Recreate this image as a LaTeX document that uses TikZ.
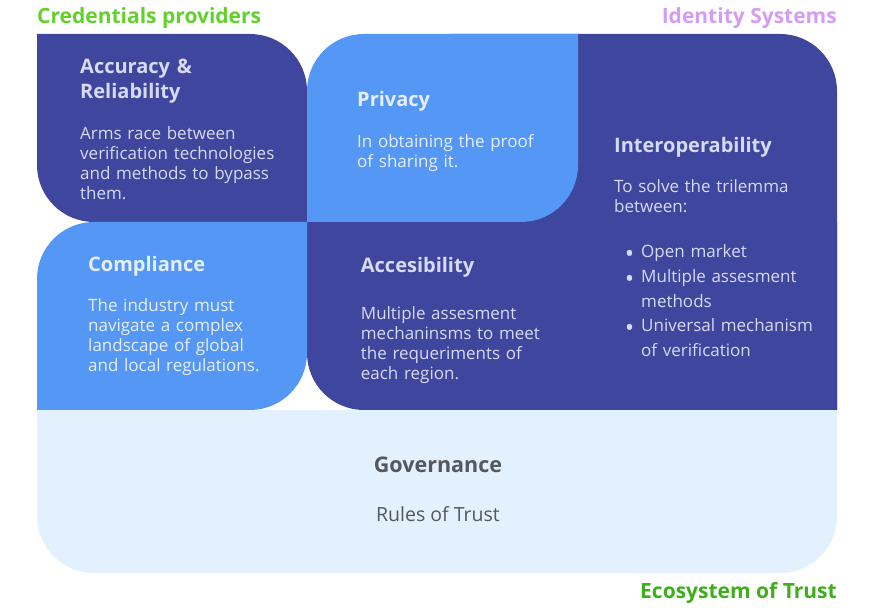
\documentclass[tikz,border=0pt]{standalone}
\usepackage{fontspec}
\setmainfont{Open Sans}
\usepackage{tikz}
\usetikzlibrary{positioning}

\definecolor{deepblue}{HTML}{3F469E}
\definecolor{skyblue}{HTML}{5597F5}
\definecolor{paleblue}{HTML}{E3F0FD}
\definecolor{lavtext}{HTML}{D7DAF3}
\definecolor{palewhite}{HTML}{E6EFFD}
\definecolor{govtext}{HTML}{52585E}
\definecolor{credgreen}{HTML}{62D12A}
\definecolor{idviolet}{HTML}{D69BF3}
\definecolor{ecogreen}{HTML}{3FAE1C}

\newcommand{\crad}{57}
\newcommand{\dotitem}{\leavevmode\llap{\raisebox{-5pt}{\fontsize{25}{0}\selectfont\textbullet}\hspace{7pt}}}

\begin{document}
\begin{tikzpicture}[x=1pt,y=1pt]
        \tikzstyle{toplab}=[inner sep=0pt,font=\fontsize{21}{24}\selectfont\bfseries]
        \tikzstyle{head}=[anchor=base west,inner sep=0pt,text width=240pt,align=left,font=\fontsize{20}{24.3}\selectfont\bfseries]
        \tikzstyle{body}=[anchor=base west,inner sep=0pt,text width=240pt,align=left,font=\fontsize{17}{20}\selectfont]
        \useasboundingbox (0,0) rectangle (874,607);

        % tiles
        \fill[paleblue] (37,197) -- (37,34+\crad) arc[start angle=180,end angle=270,radius=\crad]
            -- (837-\crad,34) arc[start angle=270,end angle=360,radius=\crad] -- (837,197) -- cycle;
        \fill[deepblue] (450,197) -- (450,573) -- (837-\crad,573) arc[start angle=90,end angle=0,radius=\crad]
            -- (837,197) -- cycle;
        \fill[deepblue] (307,385) -- (307,197+\crad) arc[start angle=180,end angle=270,radius=\crad]
            -- (837,197) -- (837,385) -- cycle;
        \fill[deepblue] (37,573) -- (307-\crad,573) arc[start angle=90,end angle=0,radius=\crad]
            -- (307,385) -- (37+\crad,385) arc[start angle=270,end angle=180,radius=\crad] -- cycle;
        \fill[skyblue] (37,197) -- (37,385-\crad) arc[start angle=180,end angle=90,radius=\crad]
            -- (307,385) -- (307,197+\crad) arc[start angle=0,end angle=-90,radius=\crad] -- cycle;
        \fill[skyblue] (307,385) -- (307,573-\crad) arc[start angle=180,end angle=90,radius=\crad]
            -- (578,573) -- (578,385+\crad) arc[start angle=0,end angle=-90,radius=\crad] -- cycle;

        % side labels
        \node[toplab,text=credgreen,anchor=base west] (cred) at (37,583) {Credentials providers};
        \node[toplab,text=idviolet,anchor=base east] (idsys) at (837,583) {Identity Systems};
        \node[toplab,text=ecogreen,anchor=base east] (eco) at (837,8.7) {Ecosystem of Trust};

        % tile texts
        \node[head,text=lavtext] (acchead) at (80,533) {Accuracy \&\\Reliability};
        \node[body,text=lavtext] (accbody) at (80,467.7) {Arms race between\\verification technologies\\and methods to bypass\\them.};
        \node[head,text=palewhite] (privhead) at (357,500) {Privacy};
        \node[body,text=palewhite] (privbody) at (357,459.7) {In obtaining the proof\\of sharing it.};
        \node[head,text=lavtext] (interhead) at (614,454) {Interoperability};
        \node[body,text=lavtext] (interbody) at (614,414.7) {To solve the trilemma\\between:};
        \node[body,text=lavtext,font=\fontsize{17}{24.7}\selectfont] (interlist) at (641,349.3)
            {\dotitem Open market\\
             \dotitem Multiple assesment\\methods\\
             \dotitem Universal mechanism\\of verification};
        \node[head,text=palewhite] (comphead) at (88,335.3) {Compliance};
        \node[body,text=palewhite] (compbody) at (88,295.3) {The industry must\\navigate a complex\\landscape of global\\and local regulations.};
        \node[head,text=lavtext] (accshead) at (360.7,334.7) {Accesibility};
        \node[body,text=lavtext] (accsbody) at (360.7,287.7) {Multiple assesment\\mechaninsms to meet\\the requeriments of\\each region.};
        \node[inner sep=0pt,anchor=base,text=govtext,font=\fontsize{21.5}{24}\selectfont\bfseries] (govhead) at (438,134.3) {Governance};
        \node[inner sep=0pt,anchor=base,text=govtext,font=\fontsize{19.5}{20}\selectfont] (govbody) at (438,85) {Rules of Trust};
    \end{tikzpicture}
\end{document}
